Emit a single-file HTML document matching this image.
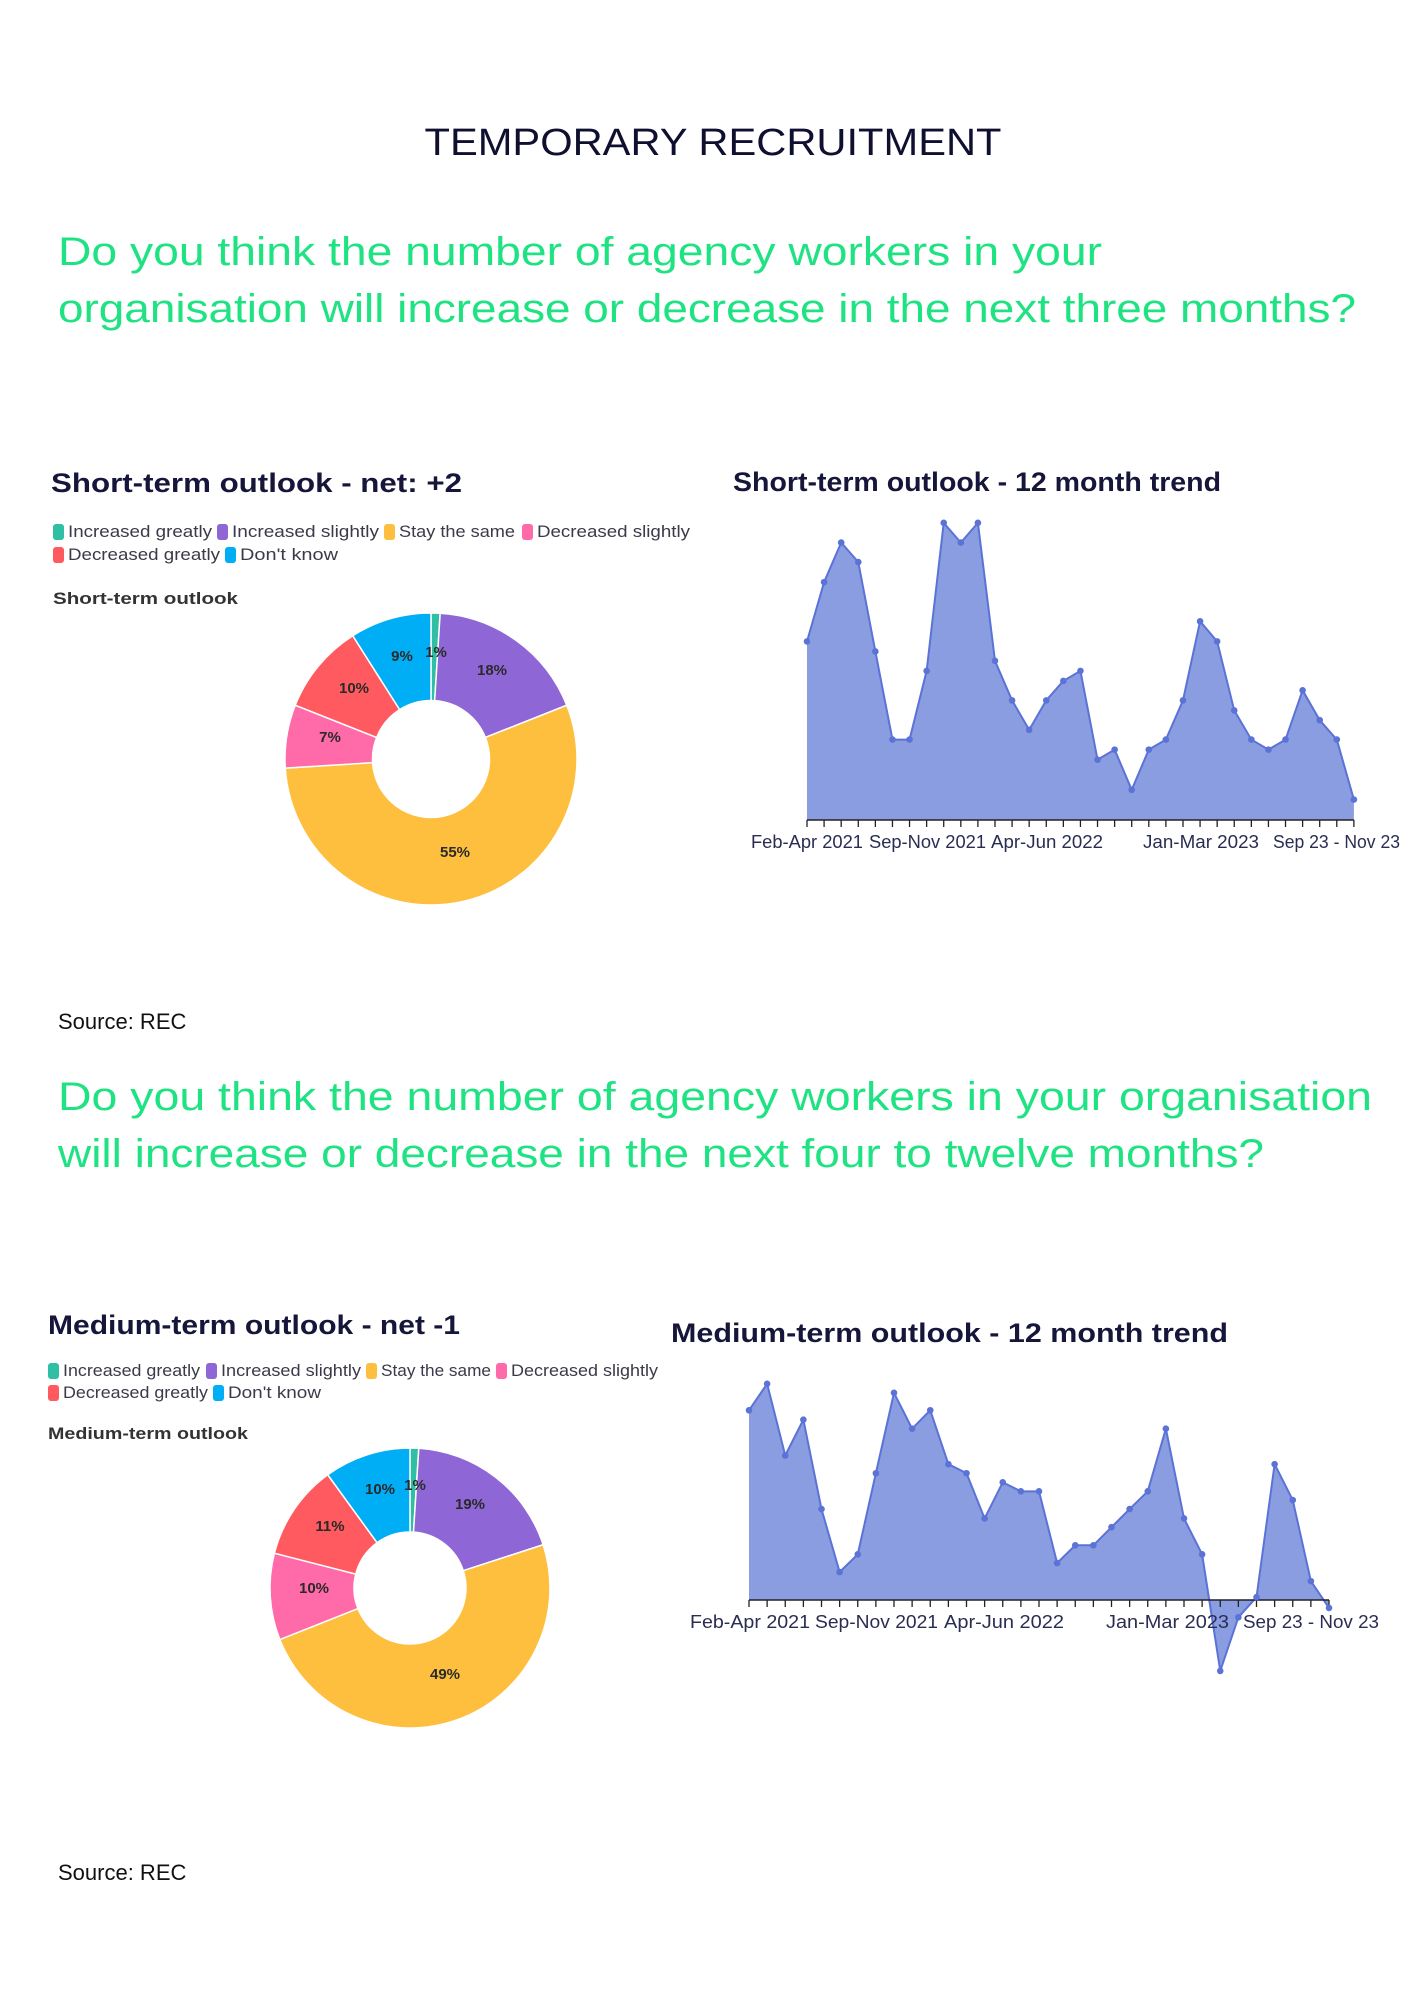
<!DOCTYPE html>
<html><head><meta charset="utf-8"><style>
html,body{margin:0;padding:0;background:#fff;width:1414px;height:2000px;overflow:hidden}
svg{display:block}
.g{fill:#1fe382;font-family:"Liberation Sans",sans-serif;font-size:40px}
.t{fill:#15163a;font-family:"Liberation Sans",sans-serif;font-weight:bold;font-size:27px}
.lg{fill:#3a3a4a;font-family:"Liberation Sans",sans-serif;font-size:17px}
.sub{fill:#333;font-family:"Liberation Sans",sans-serif;font-weight:bold;font-size:17px}
.pl{fill:#2a2a2a;font-family:"Liberation Sans",sans-serif;font-weight:bold;font-size:15px}
.ax{fill:#2a2d52;font-family:"Liberation Sans",sans-serif;font-size:18px}
.src{fill:#111;font-family:"Liberation Sans",sans-serif;font-size:22px}
</style></head><body>
<svg id="s" width="1414" height="2000" viewBox="0 0 1414 2000" xmlns="http://www.w3.org/2000/svg">
<text x="713" y="155" text-anchor="middle" font-family="Liberation Sans, sans-serif" font-size="38" fill="#0f1030" textLength="577" lengthAdjust="spacingAndGlyphs">TEMPORARY RECRUITMENT</text>
<text class="g" x="58" y="265" textLength="1044" lengthAdjust="spacingAndGlyphs">Do you think the number of agency workers in your</text>
<text class="g" x="58" y="322" textLength="1298" lengthAdjust="spacingAndGlyphs">organisation will increase or decrease in the next three months?</text>
<text class="g" x="58" y="1110" textLength="1314" lengthAdjust="spacingAndGlyphs">Do you think the number of agency workers in your organisation</text>
<text class="g" x="58" y="1167" textLength="1206" lengthAdjust="spacingAndGlyphs">will increase or decrease in the next four to twelve months?</text>
<text class="src" x="58" y="1029">Source: REC</text>
<text class="src" x="58" y="1880">Source: REC</text>

<text class="t" x="51" y="492" textLength="411" lengthAdjust="spacingAndGlyphs">Short-term outlook - net: +2</text>
<text class="t" x="733" y="491" textLength="488" lengthAdjust="spacingAndGlyphs">Short-term outlook - 12 month trend</text>
<text class="t" x="48" y="1334" textLength="412" lengthAdjust="spacingAndGlyphs">Medium-term outlook - net -1</text>
<text class="t" x="671" y="1342" textLength="557" lengthAdjust="spacingAndGlyphs">Medium-term outlook - 12 month trend</text>
<text class="sub" x="53" y="604" textLength="185" lengthAdjust="spacingAndGlyphs">Short-term outlook</text>
<text class="sub" x="48" y="1439" textLength="200" lengthAdjust="spacingAndGlyphs">Medium-term outlook</text>
<g id="dyn"></g>
</svg>
<script>
var NS="http://www.w3.org/2000/svg",g=document.getElementById("dyn");
function el(n,a,t){var e=document.createElementNS(NS,n);for(var k in a)e.setAttribute(k,a[k]);if(t)e.textContent=t;g.appendChild(e);return e;}
var C=["#2ebfa5","#8e66d6","#fdbf3d","#ff6aa8","#ff5a5f","#00aef6"];
function legend(rows){rows.forEach(function(r){el("rect",{x:r[0],y:r[1]-13,width:11,height:16,rx:3,fill:C[r[4]]});el("text",{class:"lg",x:r[0]+15,y:r[1],textLength:r[3]-r[0]-15,lengthAdjust:"spacingAndGlyphs"},r[2]);});}
legend([[53,537,"Increased greatly",212,0],[217,537,"Increased slightly",379,1],[384,537,"Stay the same",515,2],[522,537,"Decreased slightly",690,3],[53,560,"Decreased greatly",220,4],[225,560,"Don't know",338,5]]);
legend([[48,1376,"Increased greatly",200,0],[206,1376,"Increased slightly",361,1],[366,1376,"Stay the same",491,2],[496,1376,"Decreased slightly",658,3],[48,1398,"Decreased greatly",208,4],[213,1398,"Don't know",321,5]]);
function pie(cx,cy,R,r,vals,labels){var a=-Math.PI/2;vals.forEach(function(v,i){var b=a+v/100*2*Math.PI;var l=(b-a)>Math.PI?1:0;
var p="M"+(cx+R*Math.cos(a))+","+(cy+R*Math.sin(a))+"A"+R+","+R+" 0 "+l+" 1 "+(cx+R*Math.cos(b))+","+(cy+R*Math.sin(b))+"L"+(cx+r*Math.cos(b))+","+(cy+r*Math.sin(b))+"A"+r+","+r+" 0 "+l+" 0 "+(cx+r*Math.cos(a))+","+(cy+r*Math.sin(a))+"Z";
el("path",{d:p,fill:C[i],stroke:"#fff","stroke-width":1.5});a=b;});
labels.forEach(function(t){el("text",{class:"pl",x:t[1],y:t[2]+5,"text-anchor":"middle"},t[0]);});}
pie(431,759,146,58.5,[1,18,55,7,10,9],[["1%",436,652],["9%",402,656],["18%",492,670],["10%",354,688],["7%",330,737],["55%",455,852]]);
pie(410,1588,140,56,[1,19,49,10,11,10],[["10%",380,1489],["1%",415,1485],["19%",470,1504],["11%",330,1526],["10%",314,1588],["49%",445,1674]]);
function trend(x0,dx,base,a,b,zy,labs,ly){var pts=zy.map(function(z,i){return [x0+i*dx,a+b*z];});
var d="M"+x0+","+base+" "+pts.map(function(p){return "L"+p[0]+","+p[1];}).join(" ")+" L"+pts[pts.length-1][0]+","+base+"Z";
el("path",{d:d,fill:"#8a9de0"});
el("polyline",{points:pts.map(function(p){return p.join(",");}).join(" "),fill:"none",stroke:"#5b72d6","stroke-width":2});
el("line",{x1:x0,y1:base,x2:pts[pts.length-1][0],y2:base,stroke:"#222","stroke-width":1.5});
pts.forEach(function(p){el("line",{x1:p[0],y1:base,x2:p[0],y2:base+7,stroke:"#222","stroke-width":1.3});});
pts.forEach(function(p){el("circle",{cx:p[0],cy:p[1],r:3.3,fill:"#5b72d6"});});
labs.forEach(function(l){el("text",{class:"ax",x:l[1],y:ly,textLength:l[2]-l[1],lengthAdjust:"spacingAndGlyphs"},l[0]);});}
trend(807,17.09,820,423,0.335,[652,475,357,415,682,945,945,740,298,357,298,710,828,916,828,770,740,1005,975,1095,975,945,828,592,652,858,945,975,945,798,887,945,1124],
[["Feb-Apr 2021",751,863],["Sep-Nov 2021",869,986],["Apr-Jun 2022",991,1103],["Jan-Mar 2023",1143,1259],["Sep 23 - Nov 23",1273,1400]],848);
trend(749,18.125,1600,1289,0.335,[362,283,497,390,657,845,792,550,310,417,362,523,550,685,577,604,604,818,765,765,711,657,604,417,685,792,1140,980,920,523,630,872,952],
[["Feb-Apr 2021",690,810],["Sep-Nov 2021",815,938],["Apr-Jun 2022",944,1064],["Jan-Mar 2023",1106,1229],["Sep 23 - Nov 23",1243,1379]],1628);
</script>
</body></html>
